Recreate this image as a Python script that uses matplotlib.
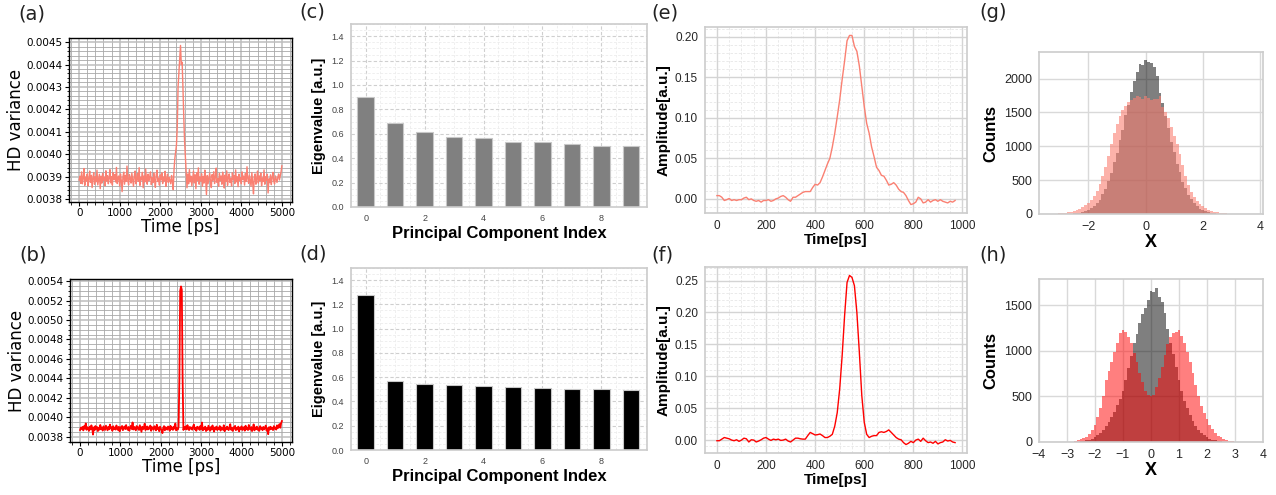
from __future__ import annotations

import matplotlib
import numpy as np

matplotlib.use("Agg")
import matplotlib.pyplot as plt
from matplotlib.ticker import AutoMinorLocator, FormatStrFormatter, MultipleLocator

# ---------------- data ----------------
# (a) HD variance trace, units of 1e-6, sampled every 20 ps from 0 to 5000 ps
hd_var_a = [
    3885, 3902, 3870, 3921, 3868, 3893, 3936, 3861, 3897, 3880,
    3912, 3858, 3889, 3925, 3874, 3906, 3851, 3893, 3918, 3866,
    3899, 3877, 3929, 3863, 3888, 3910, 3846, 3902, 3871, 3915,
    3884, 3897, 3859, 3926, 3880, 3904, 3868, 3893, 3931, 3872,
    3900, 3862, 3918, 3887, 3909, 3876, 3941, 3869, 3895, 3903,
    3858, 3912, 3882, 3833, 3898, 3920, 3866, 3905, 3879, 3947,
    3884, 3863, 3909, 3892, 3871, 3916, 3888, 3857, 3902, 3925,
    3868, 3894, 3913, 3879, 3940, 3861, 3897, 3885, 3919, 3850,
    3903, 3876, 3934, 3890, 3866, 3911, 3882, 3899, 3921, 3864,
    3895, 3873, 3916, 3887, 3852, 3907, 3929, 3878, 3893, 3862,
    3908, 3885, 3917, 3869, 3898, 3881, 3924, 3856, 3890, 3911,
    3874, 3897, 3882, 3868, 3905, 3879, 3842,
    3930, 3980, 4010, 4040, 4120, 4300, 4360, 4420, 4485, 4400,
    4410, 4300, 4170, 4060, 3990, 3920, 3850,
    3912, 3868, 3931, 3877, 3902, 3859,
    3894, 3925, 3872, 3908, 3846, 3917, 3883, 3939, 3866, 3898,
    3880, 3913, 3857, 3901, 3871, 3929, 3889, 3820, 3905, 3868,
    3893, 3916, 3877, 3851, 3909, 3884, 3922, 3869, 3897, 3938,
    3874, 3891, 3857, 3914, 3882, 3903, 3866, 3920, 3888, 3849,
    3907, 3879, 3926, 3861, 3896, 3912, 3874, 3893, 3858, 3917,
    3886, 3904, 3869, 3930, 3877, 3899, 3855, 3911, 3883, 3895,
    3868, 3921, 3887, 3902, 3862, 3914, 3879, 3944, 3891, 3870,
    3906, 3883, 3857, 3918, 3874, 3823, 3897, 3912, 3866, 3889,
    3925, 3871, 3903, 3882, 3916, 3859, 3894, 3878, 3930, 3866,
    3899, 3884, 3911, 3827, 3890, 3873, 3908, 3864, 3895, 3919,
    3880, 3867, 3903, 3889, 3874, 3897, 3912, 3885, 3902, 3921,
    3948,
]

# (b) HD variance trace, units of 1e-6, sampled every 20 ps from 0 to 5000 ps
hd_var_b = [
    3870, 3895, 3881, 3902, 3866, 3910, 3884, 3938, 3872, 3899,
    3887, 3861, 3905, 3876, 3918, 3890, 3823, 3897, 3868, 3911,
    3883, 3901, 3859, 3894, 3873, 3922, 3880, 3896, 3864, 3908,
    3889, 3871, 3915, 3892, 3867, 3903, 3877, 3926, 3885, 3898,
    3862, 3909, 3881, 3894, 3874, 3917, 3888, 3870, 3903, 3856,
    3899, 3884, 3912, 3868, 3893, 3906, 3879, 3921, 3887, 3872,
    3901, 3863, 3896, 3914, 3880, 3948, 3875, 3902, 3889, 3866,
    3911, 3884, 3897, 3870, 3919, 3886, 3852, 3904, 3878, 3893,
    3935, 3869, 3890, 3907, 3875, 3898, 3883, 3916, 3862, 3900,
    3887, 3873, 3909, 3891, 3866, 3924, 3880, 3896, 3858, 3904,
    3882, 3871, 3838, 3893, 3910, 3867, 3899, 3885, 3874, 3906,
    3890, 3862, 3913, 3879, 3896, 3871, 3905, 3884, 3937, 3866,
    3888, 3874, 3900, 4400, 5300, 5345, 5310, 4400, 3870,
    3899, 3881, 3907, 3876, 3920, 3888, 3869, 3902, 3884, 3895, 3873,
    3908, 3926, 3877, 3890, 3862, 3904, 3885, 3898, 3871, 3912,
    3880, 3947, 3866, 3893, 3878, 3905, 3859, 3889, 3871, 3914,
    3886, 3862, 3900, 3875, 3917, 3883, 3854, 3896, 3878, 3906,
    3869, 3891, 3880, 3911, 3864, 3897, 3885, 3873, 3919, 3858,
    3893, 3877, 3905, 3882, 3869, 3902, 3930, 3874, 3888, 3861,
    3899, 3883, 3913, 3868, 3891, 3876, 3905, 3856, 3894, 3881,
    3908, 3870, 3887, 3899, 3863, 3914, 3878, 3893, 3869, 3922,
    3884, 3875, 3901, 3859, 3890, 3928, 3866, 3897, 3880, 3905,
    3872, 3889, 3861, 3910, 3883, 3895, 3868, 3902, 3877, 3891,
    3916, 3864, 3887, 3827, 3899, 3875, 3904, 3881, 3892, 3869,
    3910, 3883, 3896, 3874, 3918, 3889, 3905, 3931, 3893, 3940,
    3962,
]

# (c), (d) PCA eigenvalues
pc_index = list(range(10))
eig_c = [0.905, 0.686, 0.615, 0.576, 0.567, 0.534, 0.529, 0.516, 0.504, 0.499]
eig_d = [1.279, 0.572, 0.547, 0.539, 0.525, 0.522, 0.508, 0.503, 0.500, 0.497]

# (e), (f) temporal modes, sampled every 10 ps from 0 to 970 ps
mode_e = [
    0.004, 0.004, 0.002, -0.002, -0.001, 0.0005, -0.002, -0.001, -0.002, -0.001,
    -0.001, 0.001, 0.002, -0.001, 0.000, -0.002, -0.003, -0.002, -0.004, -0.002,
    -0.002, -0.001, -0.003, -0.002, 0.000, 0.001, 0.003, 0.004, 0.002, -0.001,
    -0.003, 0.002, 0.002, 0.004, 0.006, 0.008, 0.009, 0.009, 0.009, 0.014,
    0.018, 0.017, 0.020, 0.027, 0.035, 0.043, 0.050, 0.064, 0.081, 0.101,
    0.122, 0.147, 0.170, 0.195, 0.2015, 0.2015, 0.188, 0.182, 0.164, 0.139,
    0.114, 0.093, 0.081, 0.064, 0.052, 0.039, 0.035, 0.029, 0.028, 0.023,
    0.017, 0.018, 0.020, 0.017, 0.012, 0.009, 0.008, 0.004, -0.002, -0.007,
    -0.006, -0.004, 0.002, 0.000, -0.005, -0.004, -0.001, -0.004, -0.002, -0.001,
    -0.003, -0.001, -0.003, -0.004, -0.005, -0.003, -0.004, -0.002,
]
mode_f = [
    -0.001, -0.001, 0.0015, 0.004, 0.003, 0.002, 0.000, -0.001, 0.0005, -0.002,
    0.000, 0.003, 0.002, -0.003, 0.0005, 0.000, -0.003, -0.0015, 0.0005, 0.003,
    0.004, 0.0015, -0.0005, 0.0015, 0.0005, 0.0015, -0.0005, 0.000, 0.0015, -0.0015,
    -0.003, 0.000, 0.003, 0.003, 0.002, 0.0015, 0.0015, 0.007, 0.012, 0.010,
    0.008, 0.0085, 0.0095, 0.007, 0.004, 0.004, 0.006, 0.009, 0.022, 0.043,
    0.080, 0.132, 0.195, 0.247, 0.258, 0.255, 0.242, 0.200, 0.138, 0.070,
    0.028, 0.009, 0.004, 0.006, 0.007, 0.007, 0.012, 0.013, 0.012, 0.0135,
    0.016, 0.012, 0.008, 0.004, 0.0015, 0.0005, -0.004, -0.007, -0.005, -0.002,
    -0.004, 0.000, 0.0015, -0.002, 0.003, -0.001, -0.004, -0.003, -0.005, -0.002,
    -0.006, -0.004, -0.003, 0.0005, -0.0015, -0.0005, -0.003, -0.004,
]

# (g), (h) histograms of X quadrature, bin width 0.1, first bin centre given
bin_width = 0.1
g_gray_start = -3.0
g_gray_counts = [
    1, 2, 2, 4, 5, 8, 11, 19, 26, 42, 57, 86, 114, 165, 212, 296, 371, 492, 601, 762,
    898, 1090, 1248, 1460, 1612, 1804, 1966, 2103, 2211, 2198, 2275, 2252, 2236, 2170, 2039,
    1790, 1640, 1452, 1265, 1070, 912, 745, 614, 478, 385, 284, 222, 158, 119, 81,
    61, 38, 28, 17, 13, 7, 5, 3, 2, 1, 1,
]
g_red_start = -3.4
g_red_counts = [
    2, 3, 4, 6, 9, 12, 17, 23, 31, 42, 56, 74, 98, 128, 166, 212, 270, 345, 440, 560,
    700, 860, 1030, 1190, 1330, 1450, 1540, 1600, 1650, 1690, 1715, 1740, 1725, 1700,
    1745, 1715, 1690, 1705, 1700, 1750, 1580, 1510, 1420, 1290, 1160, 1030, 880, 720,
    560, 430, 330, 255, 195, 150, 115, 88, 66, 49, 36, 26, 19, 13, 9, 6, 4, 3, 2, 1,
    1, 1, 1,
]
h_gray_start = -2.6
h_gray_counts = [
    5, 8, 12, 18, 27, 38, 55, 74, 101, 128, 171, 218, 272, 328, 402, 468, 561, 676,
    812, 948, 1088, 1180, 1309, 1408, 1474, 1559, 1658, 1640, 1688, 1585, 1537, 1419,
    1235, 1088, 960, 818, 680, 556, 450, 372, 298, 231, 178, 134, 99, 72, 52, 36, 25,
    17, 11, 7, 4,
]
h_red_start = -3.0
h_red_counts = [
    1, 3, 5, 10, 18, 28, 42, 60, 90, 130, 190, 270, 370, 500, 680, 780, 880, 990,
    1080, 1190, 1230, 1210, 1150, 1080, 980, 880, 760, 660, 560, 510, 500, 520, 600,
    700, 820, 950, 1070, 1150, 1200, 1210, 1230, 1160, 1090, 990, 880, 760, 620, 500,
    400, 320, 250, 190, 140, 100, 70, 50, 32, 20, 12, 6, 3,
]

FIG_W, FIG_H = 1276, 495
SANS = "Liberation Sans"


def px_axes(fig, left, top, right, bottom):
    return fig.add_axes(
        [left / FIG_W, 1 - bottom / FIG_H, (right - left) / FIG_W, (bottom - top) / FIG_H]
    )


def style_trace_panel(ax, y_step):
    ax.xaxis.set_major_locator(MultipleLocator(1000))
    ax.xaxis.set_minor_locator(AutoMinorLocator(5))
    ax.yaxis.set_major_locator(MultipleLocator(y_step))
    ax.yaxis.set_minor_locator(AutoMinorLocator())
    ax.yaxis.set_major_formatter(FormatStrFormatter("%.4f"))
    ax.grid(which="major", color="#bdbdbd", linewidth=1.1)
    ax.grid(which="minor", color="#a8a8a8", linewidth=0.6)
    ax.set_axisbelow(True)
    for sp in ax.spines.values():
        sp.set_color("black")
        sp.set_linewidth(1.0)
    ax.tick_params(which="major", length=3, width=0.8, labelsize=7.5, pad=1.5)
    ax.tick_params(which="minor", length=1.8, width=0.6)
    ax.set_xlabel("Time [ps]", fontsize=12, labelpad=0)
    ax.set_ylabel("HD variance", fontsize=12, labelpad=1)


def style_clean(ax, tick_size, tick_color="#262626"):
    for sp in ax.spines.values():
        sp.set_color("#cccccc")
        sp.set_linewidth(1.2)
    ax.tick_params(which="both", length=0, labelsize=tick_size, labelcolor=tick_color, pad=5)
    for lab in ax.get_xticklabels() + ax.get_yticklabels():
        lab.set_family(SANS)
    ax.set_axisbelow(True)


def bar_panel(ax, values, color):
    ax.bar(pc_index, values, width=0.56, color=color, edgecolor="#c8c8c8", linewidth=0.8)
    ax.set_xlim(-0.5, 9.55)
    ax.set_ylim(0, 1.5)
    ax.set_xticks([0, 2, 4, 6, 8])
    ax.yaxis.set_major_locator(MultipleLocator(0.2))
    ax.yaxis.set_major_formatter(FormatStrFormatter("%.1f"))
    ax.xaxis.set_minor_locator(AutoMinorLocator(4))
    ax.yaxis.set_minor_locator(AutoMinorLocator(4))
    ax.grid(which="major", color="#cfcfcf", linewidth=0.8, linestyle=(0, (3, 2)))
    ax.grid(which="minor", color="#ececec", linewidth=0.6, linestyle=(0, (3, 2)))
    style_clean(ax, 6.5, "#444444")
    ax.set_ylabel("Eigenvalue [a.u.]", fontsize=10.5, fontweight="bold", family=SANS, labelpad=4)
    ax.set_xlabel("Principal Component Index", fontsize=12, fontweight="bold", family=SANS, labelpad=2)


def mode_panel(ax, values, color, y_step):
    t = np.arange(len(values)) * 10
    ax.plot(t, values, color=color, linewidth=1.0)
    ax.xaxis.set_major_locator(MultipleLocator(200))
    ax.xaxis.set_minor_locator(AutoMinorLocator(4))
    ax.yaxis.set_major_locator(MultipleLocator(y_step))
    ax.yaxis.set_minor_locator(AutoMinorLocator(5))
    ax.yaxis.set_major_formatter(FormatStrFormatter("%.2f"))
    ax.grid(which="major", color="#d4d4d4", linewidth=1.0)
    ax.grid(which="minor", color="#e6e6e6", linewidth=0.6, linestyle=(0, (3, 2)))
    style_clean(ax, 8.5)
    ax.set_ylabel("Amplitude[a.u.]", fontsize=11, fontweight="bold", family=SANS, labelpad=3)
    ax.set_xlabel("Time[ps]", fontsize=11, fontweight="bold", family=SANS, labelpad=1)


def hist_panel(ax, gray_start, gray_counts, red_start, red_counts, red_color, red_alpha):
    gray_left = gray_start - bin_width / 2 + bin_width * np.arange(len(gray_counts))
    red_left = red_start - bin_width / 2 + bin_width * np.arange(len(red_counts))
    ax.bar(gray_left, gray_counts, width=bin_width, align="edge", color="black", alpha=0.5, linewidth=0)
    ax.bar(red_left, red_counts, width=bin_width, align="edge", color=red_color, alpha=red_alpha, linewidth=0)
    ax.grid(which="major", color="#d9d9d9", linewidth=1.0)
    style_clean(ax, 9)
    ax.set_ylabel("Counts", fontsize=12, fontweight="bold", family=SANS, labelpad=4)
    ax.set_xlabel("X", fontsize=13, fontweight="bold", family=SANS, labelpad=1)


fig = plt.figure(figsize=(FIG_W / 100, FIG_H / 100), dpi=100)

# (a)
ax = px_axes(fig, 69, 38, 292, 202)
t_a = np.linspace(0, 5000, len(hd_var_a))
ax.plot(t_a, np.array(hd_var_a) * 1e-6, color="#fa8072", linewidth=1.0)
style_trace_panel(ax, 0.0001)

# (b)
ax = px_axes(fig, 70, 279, 292, 442)
t_b = np.linspace(0, 5000, len(hd_var_b))
ax.plot(t_b, np.array(hd_var_b) * 1e-6, color="red", linewidth=1.3)
style_trace_panel(ax, 0.0002)

# (c), (d)
ax = px_axes(fig, 351, 24, 647, 207)
bar_panel(ax, eig_c, "#808080")
ax = px_axes(fig, 351, 268, 647, 450)
bar_panel(ax, eig_d, "black")

# (e), (f)
ax = px_axes(fig, 705, 27, 967, 213)
mode_panel(ax, mode_e, "#fa8072", 0.05)
ax = px_axes(fig, 705, 267, 967, 453)
mode_panel(ax, mode_f, "red", 0.05)

# (g)
ax = px_axes(fig, 1039, 52, 1263, 214)
hist_panel(ax, g_gray_start, g_gray_counts, g_red_start, g_red_counts, "#fa8072", 0.6)
ax.set_xlim(-3.73, 4.1)
ax.set_ylim(0, 2394)
ax.set_xticks([-2, 0, 2, 4])
ax.set_yticks([0, 500, 1000, 1500, 2000])
style_clean(ax, 9)

# (h)
ax = px_axes(fig, 1039, 279, 1263, 442)
hist_panel(ax, h_gray_start, h_gray_counts, h_red_start, h_red_counts, "red", 0.5)
ax.set_xlim(-4, 4)
ax.set_ylim(0, 1787)
ax.set_xticks(range(-4, 5))
ax.set_yticks([0, 500, 1000, 1500])
style_clean(ax, 9)

# panel letters
letters = [
    ("(a)", 18, 14), ("(b)", 19, 255), ("(c)", 299, 12), ("(d)", 299, 254),
    ("(e)", 651, 13), ("(f)", 651, 255), ("(g)", 979, 12), ("(h)", 979, 255),
]
for text, x, y in letters:
    fig.text(x / FIG_W, 1 - y / FIG_H, text, fontsize=14, ha="left", va="center", color="#222222")

fig.savefig("out.png", dpi=100)
